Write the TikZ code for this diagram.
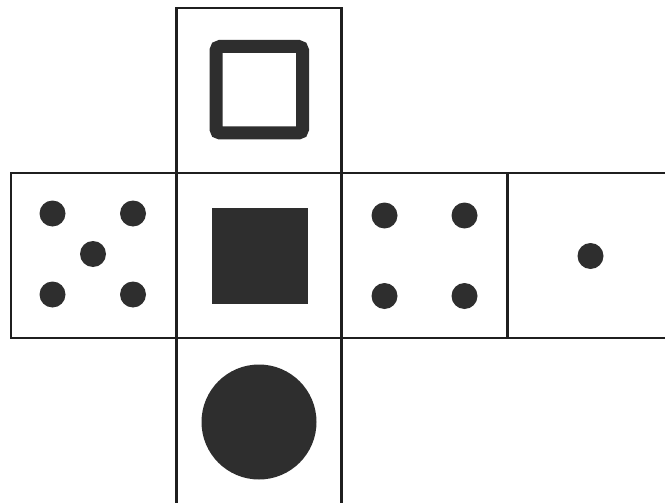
\documentclass[tikz,border=0pt]{standalone}
\begin{document}
\begin{tikzpicture}[x=1pt,y=-1pt,
  edge/.style={draw=black!88,line width=2.1pt},
  ink/.style={fill=black!82,draw=none},
  pip/.style={ink,circle,minimum size=26pt,inner sep=0pt}]
\useasboundingbox (0,0) rectangle (665,503);
\fill[white] (0,0) rectangle (665,503);
% faces
\coordinate (t1) at (176.5,8); \coordinate (t2) at (341.5,173);
\draw[edge] (t1) rectangle (t2);
\coordinate (l1) at (11,173); \coordinate (l2) at (176.5,338);
\draw[edge] (l1) rectangle (l2);
\coordinate (m2) at (341.5,338);
\draw[edge] (l2 |- t2) rectangle (m2);
\coordinate (r2) at (507.5,338);
\draw[edge] (t2) rectangle (r2);
\coordinate (e1) at (665,173); \coordinate (e2) at (665,338);
\draw[edge] (r2 |- t2) -- (e1);
\draw[edge] (r2) -- (e2);
\coordinate (b1) at (176.5,503); \coordinate (b2) at (341.5,503);
\draw[edge] (l2) -- (b1);
\draw[edge] (m2) -- (b2);
% top: hollow square
\draw[draw=black!82,line width=13pt,rounded corners=4pt] (216,46.5) rectangle (302.5,133);
% middle: filled square
\fill[black!82] (211.5,207.5) rectangle (307.5,303.5);
% bottom: disc
\node[ink,circle,minimum size=115pt,inner sep=0pt] (disc) at (259,422) {};
% left: five
\node[pip] (f1) at (52.5,213.5) {};
\node[pip] (f2) at (133,213.5) {};
\node[pip] (f3) at (93,254) {};
\node[pip] (f4) at (52.5,294.5) {};
\node[pip] (f5) at (133,294.5) {};
% right of middle: four
\node[pip] (q1) at (384.5,215.5) {};
\node[pip] (q2) at (464.5,215.5) {};
\node[pip] (q3) at (384.5,296) {};
\node[pip] (q4) at (464.5,296) {};
% far right: one
\node[pip] (o1) at (590.5,256) {};
\end{tikzpicture}
\end{document}
